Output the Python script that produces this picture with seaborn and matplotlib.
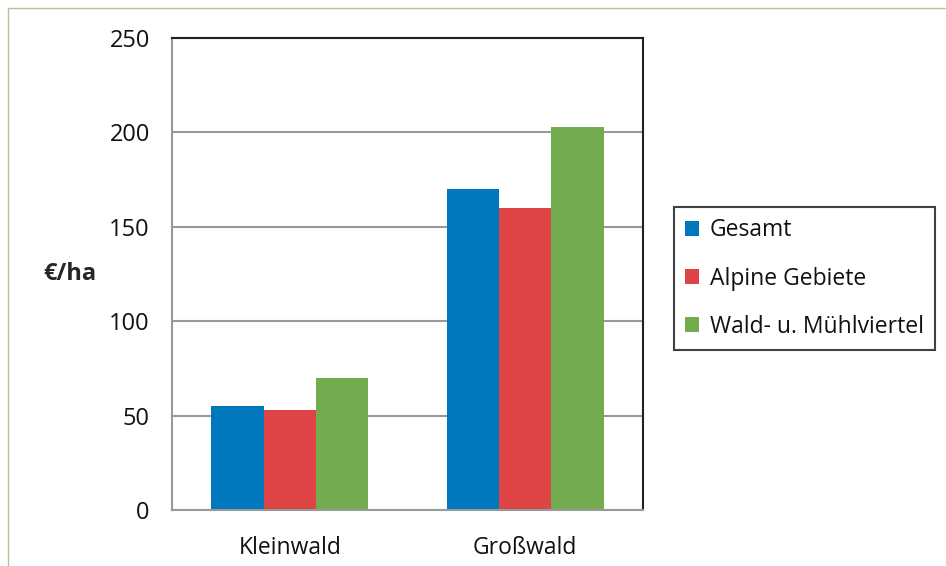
import seaborn as sns
import numpy as np
import pandas as pd
import matplotlib.pyplot as plt
from matplotlib.lines import Line2D

# Kosten je Hektar
categories = ["Kleinwald", "Großwald"]
series = ["Gesamt", "Alpine Gebiete", "Wald- u. Mühlviertel"]
gesamt = [55, 170]
alpine = [53, 160]
wald_muehl = [70, 203]
colors = ["#0078BE", "#DE4346", "#72AC4E"]

df = pd.DataFrame({
    "cat": categories * 3,
    "series": [s for s in series for _ in categories],
    "value": gesamt + alpine + wald_muehl,
})

sns.set_style("white")
plt.rcParams['font.family'] = ['Open Sans', 'DejaVu Sans']
plt.rcParams['text.color'] = '#111111'
plt.rcParams['xtick.color'] = '#111111'
plt.rcParams['ytick.color'] = '#111111'

fig = plt.figure(figsize=(9.46, 5.66), dpi=100)
ax = fig.add_axes([172 / 946, 1 - 510 / 566, (643 - 172) / 946, (510 - 38) / 566])

sns.barplot(data=df, x="cat", y="value", hue="series", palette=colors,
            width=0.667, saturation=1, linewidth=0, ax=ax)

ax.set_ylim(0, 250)
ax.set_yticks([0, 50, 100, 150, 200, 250])
ax.set_xlim(-0.5, 1.5)
ax.set_xticks([-0.5, 0.5, 1.5], minor=False)
ax.set_xticklabels([])
ax.set_xticks([0, 1], minor=True)
ax.set_xticklabels(categories, minor=True)
ax.tick_params(axis='x', which='minor', length=0, pad=19, labelsize=16.5, labelcolor='#111111')
ax.tick_params(axis='x', which='major', length=7, width=1.5, color='#999999', direction='out')
ax.tick_params(axis='y', length=7, width=1.5, color='#999999', direction='out', pad=9,
               labelsize=17, labelcolor='#111111')
ax.yaxis.grid(True, color='#999999', linewidth=1.5)
ax.set_axisbelow(True)

for side in ['left', 'bottom']:
    ax.spines[side].set_color('#999999')
    ax.spines[side].set_linewidth(1.5)
for side in ['top', 'right']:
    ax.spines[side].set_color('#222222')
    ax.spines[side].set_linewidth(1.5)
    ax.spines[side].set_visible(True)

ax.set_xlabel("")
ax.set_ylabel("€/ha", rotation=0, fontsize=17, fontweight='bold', labelpad=0)
ax.yaxis.set_label_coords(-0.217, 0.5)
ax.yaxis.label.set_verticalalignment('center')

ax.legend(title=None, loc='upper left', bbox_to_anchor=(674 / 946, 1 - 207 / 566),
          bbox_transform=fig.transFigure, borderaxespad=0, frameon=True,
          fancybox=False, edgecolor='#111111', fontsize=16.5,
          handlelength=0.6, handleheight=0.6, handletextpad=0.45,
          labelspacing=1.05, borderpad=0.5)
ax.get_legend().get_frame().set_linewidth(1.5)

# thin green frame line at top and left
fig.add_artist(Line2D([8 / 946, 1], [1 - 8 / 566, 1 - 8 / 566], transform=fig.transFigure,
                      color='#A9C99A', linewidth=1))
fig.add_artist(Line2D([8 / 946, 8 / 946], [0, 1 - 8 / 566], transform=fig.transFigure,
                      color='#A9C99A', linewidth=1))

fig.savefig("out.png", dpi=100)
